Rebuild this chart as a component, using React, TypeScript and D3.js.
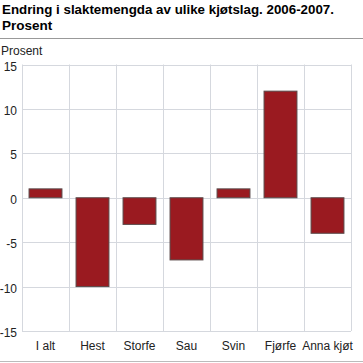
import React from "react";
import * as d3 from "d3";

const categories = ["I alt", "Hest", "Storfe", "Sau", "Svin", "Fjørfe", "Anna kjøt"];
const values = [1, -10, -3, -7, 1, 12, -4];
const yTicks = [-15, -10, -5, 0, 5, 10, 15];

export default function App() {
  const W = 363, H = 363;
  const left = 22, right = 351, top = 64.5, bottom = 331;
  const x = d3.scaleBand<string>().domain(categories).range([left, right]).paddingInner(0.3).paddingOuter(0.15);
  const xb = d3.scaleBand<string>().domain(categories).range([left, right]);
  const y = d3.scaleLinear().domain([-15, 15]).range([bottom, top]);
  const font = "'Liberation Sans', Arial, sans-serif";
  return (
    <svg width={W} height={H} style={{ position: "absolute", left: 0, top: 0 }} fontFamily={font}>
      <rect width={W} height={H} fill="#fff" />
      <text x={2} y={14} fontSize={13.5} fontWeight="bold" fill="#000" textLength={332} lengthAdjust="spacingAndGlyphs">Endring i slaktemengda av ulike kjøtslag. 2006-2007.</text>
      <text x={2} y={30} fontSize={13.5} fontWeight="bold" fill="#000">Prosent</text>
      <line x1={0} x2={W} y1={38.5} y2={38.5} stroke="#999" />
      <text x={1} y={54.5} fontSize={12} fill="#222">Prosent</text>
      {yTicks.map(t => (
        <g key={t}>
          <line x1={left} x2={right} y1={Math.round(y(t)) + 0.5} y2={Math.round(y(t)) + 0.5} stroke="#d5d8de" />
          <text x={17} y={y(t) + 6} fontSize={12} textAnchor="end" fill="#222">{t}</text>
        </g>
      ))}
      {categories.map((c, i) => (
        <line key={"v" + i} x1={Math.round(xb(c)!) + 0.5} x2={Math.round(xb(c)!) + 0.5} y1={top} y2={bottom} stroke="#d5d8de" />
      ))}
      <line x1={right + 0.5} x2={right + 0.5} y1={top} y2={bottom} stroke="#d5d8de" />
      {categories.map((c, i) => {
        const v = values[i];
        const y0 = y(Math.max(0, v)), y1 = y(Math.min(0, v));
        return (
          <rect key={c} x={x(c)!} y={y0} width={x.bandwidth()} height={y1 - y0} fill="#9a1a20" stroke="#5a4a4a" strokeWidth={1} />
        );
      })}
      {categories.map(c => (
        <text key={"l" + c} x={xb(c)! + xb.bandwidth() / 2} y={349.5} fontSize={12} textAnchor="middle" fill="#222">{c}</text>
      ))}
      <line x1={0} x2={W} y1={361.5} y2={361.5} stroke="#bbb" />
    </svg>
  );
}
